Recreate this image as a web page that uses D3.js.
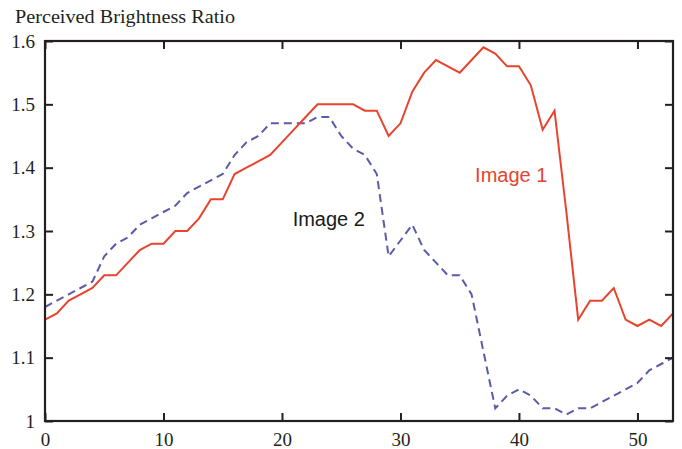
<!DOCTYPE html>
<html><head><meta charset="utf-8">
<script src="https://cdn.jsdelivr.net/npm/d3@7"></script>
<style>html,body{margin:0;padding:0;background:#fff;}svg{display:block;}</style>
</head><body>
<svg id="chart" width="682" height="449"></svg>
<script>
const xValues = d3.range(0, 54);
const image1 = [1.16,1.17,1.19,1.20,1.21,1.23,1.23,1.25,1.27,1.28,1.28,1.30,1.30,1.32,1.35,1.35,1.39,1.40,1.41,1.42,1.44,1.46,1.48,1.50,1.50,1.50,1.50,1.49,1.49,1.45,1.47,1.52,1.55,1.57,1.56,1.55,1.57,1.59,1.58,1.56,1.56,1.53,1.46,1.49,1.33,1.16,1.19,1.19,1.21,1.16,1.15,1.16,1.15,1.17];
const image2 = [1.18,1.19,1.20,1.21,1.22,1.26,1.28,1.29,1.31,1.32,1.33,1.34,1.36,1.37,1.38,1.39,1.42,1.44,1.45,1.47,1.47,1.47,1.47,1.48,1.48,1.45,1.43,1.42,1.39,1.26,1.285,1.31,1.27,1.25,1.23,1.23,1.20,1.11,1.02,1.04,1.05,1.04,1.02,1.02,1.01,1.02,1.02,1.03,1.04,1.05,1.06,1.08,1.09,1.10];
const xTicks = [0,10,20,30,40,50];
const yTicks = [1,1.1,1.2,1.3,1.4,1.5,1.6];
const yTickLabels = ["1","1.1","1.2","1.3","1.4","1.5","1.6"];
const title = "Perceived Brightness Ratio";

const svg = d3.select("#chart");
const L = 45, R = 673, T = 41, B = 421;
const x = d3.scaleLinear().domain([0, 53]).range([L, R]);
const y = d3.scaleLinear().domain([1, 1.6]).range([B, T]);

const serif = "'Liberation Serif','DejaVu Serif',serif";
const sans = "'Liberation Sans',Arial,sans-serif";
const axisColor = "#231f20";

// lines
const line = d3.line().x((d,i)=>x(xValues[i])).y(d=>y(d));
svg.append("path").datum(image2).attr("d", line)
  .attr("fill","none").attr("stroke","#5b5ba8").attr("stroke-width",2)
  .attr("stroke-dasharray","8,5");
svg.append("path").datum(image1).attr("d", line)
  .attr("fill","none").attr("stroke","#e8432d").attr("stroke-width",2);

// frame
svg.append("rect").attr("x",L).attr("y",T).attr("width",R-L).attr("height",B-T)
  .attr("fill","none").attr("stroke",axisColor).attr("stroke-width",2.2);

// axes with inward ticks
const fmtY = (d)=> yTickLabels[yTicks.indexOf(d)];
const gL = svg.append("g").attr("transform",`translate(${L},0)`)
  .call(d3.axisLeft(y).tickValues(yTicks).tickSize(-8).tickPadding(10).tickFormat(fmtY));
const gR = svg.append("g").attr("transform",`translate(${R},0)`)
  .call(d3.axisRight(y).tickValues(yTicks).tickSize(-8).tickFormat(""));
const gB = svg.append("g").attr("transform",`translate(0,${B})`)
  .call(d3.axisBottom(x).tickValues(xTicks).tickSize(-8));
const gT = svg.append("g").attr("transform",`translate(0,${T})`)
  .call(d3.axisTop(x).tickValues(xTicks).tickSize(-8).tickFormat(""));
[gL,gR,gB,gT].forEach(g=>{
  g.select(".domain").remove();
  g.selectAll(".tick line").attr("stroke",axisColor).attr("stroke-width",2);
  g.selectAll("text").attr("font-family",serif).attr("font-size",19).attr("fill","#231f20");
});
gL.selectAll(".tick text").attr("dy","0.33em");
gB.selectAll(".tick text").attr("y",25).attr("dy",0);

// title
svg.append("text").attr("x",15).attr("y",23).text(title)
  .attr("font-family",serif).attr("font-size",19).attr("fill","#231f20")
  .attr("textLength",220).attr("lengthAdjust","spacingAndGlyphs");

// labels
svg.append("text").attr("x",x(36.3)).attr("y",y(1.378)).text("Image 1")
  .attr("font-family",sans).attr("font-size",20).attr("fill","#e8432d");
svg.append("text").attr("x",x(20.9)).attr("y",y(1.308)).text("Image 2")
  .attr("font-family",sans).attr("font-size",20).attr("fill","#1a1a1a");
</script>
</body></html>
